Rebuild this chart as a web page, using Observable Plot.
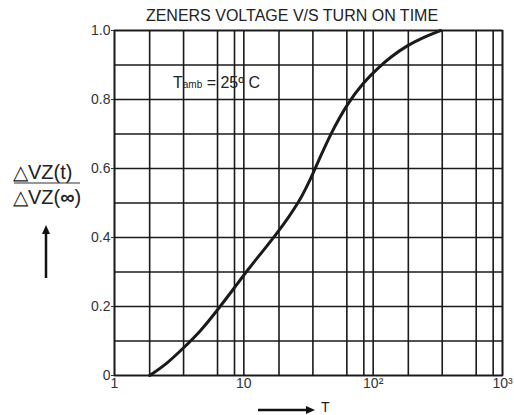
<!DOCTYPE html>
<html>
<head>
<meta charset="utf-8">
<script src="https://cdn.jsdelivr.net/npm/d3@7"></script>
<script src="https://cdn.jsdelivr.net/npm/@observablehq/plot@0.6"></script>
<style>
  html, body { margin: 0; padding: 0; background: #fff; }
  svg { display: block; }
</style>
</head>
<body>
<div id="chart"></div>
<script>
// Curve: turn-on time T (log axis) vs normalised Zener voltage change
const timeT = [1.87, 2.56, 3.44, 4.62, 6.29, 8.37, 10.9, 14, 18.1, 22.3, 26.6, 30, 34.4, 38, 46.8, 63, 84.8, 108, 136, 184, 247, 332];
const ratio = [0, 0.035, 0.081, 0.128, 0.191, 0.252, 0.31, 0.36, 0.413, 0.46, 0.503, 0.54, 0.587, 0.624, 0.7, 0.788, 0.851, 0.89, 0.923, 0.957, 0.981, 1.0];

// Grid lines and ticks
const gridX = [1, 1.87, 3.42, 6.26, 8.47, 10, 18.7, 34.2, 62.6, 84.7, 100, 187, 342, 626, 847, 1000];
const gridY = [0, 0.1, 0.2, 0.3, 0.4, 0.5, 0.6, 0.7, 0.8, 0.9, 1.0];
const xTicks = [1, 10, 100, 1000];
const xTickLabels = ["1", "10", "10²", "10³"];
const yTicks = [0, 0.2, 0.4, 0.6, 0.8, 1.0];
const yTickLabels = ["0", "0.2", "0.4", "0.6", "0.8", "1.0"];

const title = "ZENERS VOLTAGE V/S TURN ON TIME";
const yLabelTop = "△VZ(t)";
const xLabel = "T";

const curve = timeT.map((t, i) => ({t, r: ratio[i]}));
const font = "Liberation Sans, Arial, sans-serif";
const ink = "#1a1a1a";

const chart = Plot.plot({
  width: 514,
  height: 415,
  marginLeft: 114,
  marginRight: 12,
  marginTop: 30,
  marginBottom: 40,
  style: {fontFamily: font, fontSize: "14px", color: "#333", background: "#fff"},
  x: {type: "log", domain: [1, 1000]},
  y: {domain: [0, 1]},
  marks: [
    Plot.ruleX(gridX, {stroke: ink, strokeWidth: 1.6}),
    Plot.ruleY(gridY, {stroke: ink, strokeWidth: 1.6}),
    Plot.frame({stroke: ink, strokeWidth: 1.6}),
    Plot.line(curve, {x: "t", y: "r", stroke: ink, strokeWidth: 3, curve: "basis"}),
    Plot.axisX({ticks: xTicks, tickSize: 0, tickPadding: 3, label: null,
      tickFormat: d => xTickLabels[xTicks.indexOf(d)]}),
    Plot.axisY({ticks: yTicks, tickSize: 3, tickPadding: 1, label: null,
      tickFormat: d => yTickLabels[yTicks.indexOf(d)]})
  ]
});

document.getElementById("chart").appendChild(chart);

const svg = d3.select(chart);
// title
svg.append("text").attr("x", 292).attr("y", 21).attr("text-anchor", "middle")
  .attr("font-family", font).attr("font-size", 16).attr("fill", "#222").text(title);

// Tamb annotation
const ta = svg.append("text").attr("x", 173).attr("y", 88).attr("text-anchor", "start")
  .attr("font-family", font).attr("font-size", 16).attr("fill", "#222");
ta.append("tspan").text("T");
ta.append("tspan").attr("font-size", 10).text("amb");
ta.append("tspan").text(" = 25º C");

// y label fraction
svg.append("text").attr("x", 13).attr("y", 179).attr("text-anchor", "start")
  .attr("font-family", font).attr("font-size", 20).attr("fill", "#222").text(yLabelTop);
svg.append("line").attr("x1", 14).attr("x2", 80).attr("y1", 183).attr("y2", 183)
  .attr("stroke", "#333").attr("stroke-width", 1.2);
const yb = svg.append("text").attr("x", 13).attr("y", 204).attr("text-anchor", "start")
  .attr("font-family", font).attr("font-size", 20).attr("fill", "#222");
yb.append("tspan").text("△VZ(");
yb.append("tspan").attr("font-weight", "bold").text("∞");
yb.append("tspan").text(")");

// arrows
svg.append("line").attr("x1", 46).attr("x2", 46).attr("y1", 278).attr("y2", 232)
  .attr("stroke", "#111").attr("stroke-width", 2.5);
svg.append("path").attr("d", "M42,234 L46,225 L50,234 Z").attr("fill", "#111");
svg.append("line").attr("x1", 258).attr("x2", 308).attr("y1", 410).attr("y2", 410)
  .attr("stroke", "#111").attr("stroke-width", 2.5);
svg.append("path").attr("d", "M306,406 L315,410 L306,414 Z").attr("fill", "#111");
svg.append("text").attr("x", 321).attr("y", 412).attr("text-anchor", "start")
  .attr("font-family", font).attr("font-size", 14).attr("fill", "#222").text(xLabel);
</script>
</body>
</html>
